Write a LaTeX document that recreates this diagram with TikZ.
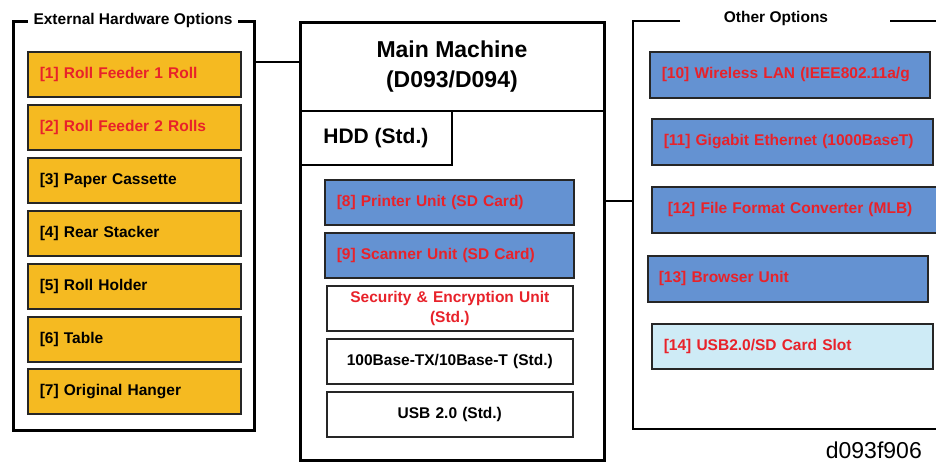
\documentclass[tikz,border=0pt]{standalone}
\usepackage{fontspec}
\setmainfont{Liberation Sans}
\usetikzlibrary{positioning}
\definecolor{optyellow}{RGB}{245,186,33}
\definecolor{optblue}{RGB}{100,146,210}
\definecolor{optlight}{RGB}{206,235,246}
\definecolor{optred}{RGB}{232,34,42}
\tikzset{
  frame/.style={draw=black, line width=2.6pt},
  item/.style={draw=black!85, line width=1.6pt, anchor=north west, inner xsep=12pt,
    inner ysep=0pt, font=\bfseries\fontsize{15.5}{19}\selectfont, align=left},
  yitem/.style={item, fill=optyellow, minimum width=213pt, minimum height=45pt, text width=189pt},
  bitem/.style={item, fill=optblue, text=optred},
  litem/.style={item, fill=optlight, text=optred},
  witem/.style={item, fill=white, align=center, inner xsep=2pt, minimum width=246pt, minimum height=45pt, text width=240pt},
  title/.style={fill=white, inner xsep=6pt, inner ysep=1pt, font=\bfseries\fontsize{15.5}{18}\selectfont},
  conn/.style={draw=black, line width=2.6pt}
}
\begin{document}
\begin{tikzpicture}[x=1pt,y=-1pt]
\useasboundingbox (0,0) rectangle (936,463);
% left frame
\node[frame, anchor=north west, minimum width=241pt, minimum height=409pt] (ext) at (12,20) {};
\node[title] (exttitle) at (133,20) {External Hardware Options};
\node[yitem, text=optred] (y1) at (27,51) {[1] Roll Feeder 1 Roll};
\node[yitem, text=optred] (y2) at (27,104) {[2] Roll Feeder 2 Rolls};
\node[yitem] (y3) at (27,157) {[3] Paper Cassette};
\node[yitem] (y4) at (27,210) {[4] Rear Stacker};
\node[yitem] (y5) at (27,263) {[5] Roll Holder};
\node[yitem] (y6) at (27,316) {[6] Table};
\node[yitem] (y7) at (27,368) {[7] Original Hanger};
% main machine
\node[frame, anchor=north west, minimum width=304pt, minimum height=438pt] (main) at (299,21) {};
\node[anchor=north west, draw=black, line width=1.8pt, minimum width=304pt, minimum height=89pt,
  align=center, font=\bfseries\fontsize{23}{30}\selectfont] (maintitle) at (299,21) {Main Machine\\(D093/D094)};
\node[anchor=north west, draw=black, line width=1.8pt, minimum width=152pt, minimum height=54pt,
  font=\bfseries\fontsize{21}{24}\selectfont] (hdd) at (299,110) {HDD (Std.)};
\node[bitem, minimum width=248pt, minimum height=45pt, text width=225pt] (b8) at (324,179) {[8] Printer Unit (SD Card)};
\node[bitem, minimum width=248pt, minimum height=45pt, text width=225pt] (b9) at (324,232) {[9] Scanner Unit (SD Card)};
\node[witem, text=optred, font=\bfseries\fontsize{15.5}{20}\selectfont] (sec) at (326,285) {Security \& Encryption Unit\\(Std.)};
\node[witem] (lan) at (326,338) {100Base-TX/10Base-T (Std.)};
\node[witem] (usb) at (326,391) {USB 2.0 (Std.)};
% other options frame
\coordinate (otl) at (633,21);
\coordinate (obl) at (633,429);
\coordinate (otr) at (936,21);
\coordinate (obr) at (936,429);
\node[font=\bfseries\fontsize{15.5}{18}\selectfont] (othtitle) at (776,18) {Other Options};
\draw[frame] (680,21) -- (otl) -- (obl) -- (obr);
\draw[frame] (890,21) -- (otr);
\node[bitem, minimum width=280pt, minimum height=46pt, text width=256pt] (o10) at (649,51) {\mbox{[10] Wireless LAN (IEEE802.11a/g}};
\node[bitem, minimum width=281pt, minimum height=46pt, text width=257pt] (o11) at (651,118) {\mbox{[11] Gigabit Ethernet (1000BaseT)}};
\node[bitem, minimum width=281pt, minimum height=46pt, text width=257pt, inner xsep=16pt] (o12) at (651,186) {\mbox{[12] File Format Converter (MLB)}};
\node[bitem, minimum width=280pt, minimum height=46pt, text width=258pt, inner xsep=11pt] (o13) at (647,255) {[13] Browser Unit};
\node[litem, minimum width=281pt, minimum height=45pt, text width=257pt] (o14) at (651,323) {[14] USB2.0/SD Card Slot};
% connectors
\draw[conn] (ext.east |- 0,62) -- (main.west |- 0,62);
\coordinate (oleft) at (otl |- 0,201);
\draw[conn] (main.east |- 0,201) -- (oleft);
% figure id
\node[anchor=base east, inner sep=0pt, font=\fontsize{23}{26}\selectfont] (figid) at (922,458) {d093f906};
\end{tikzpicture}
\end{document}
